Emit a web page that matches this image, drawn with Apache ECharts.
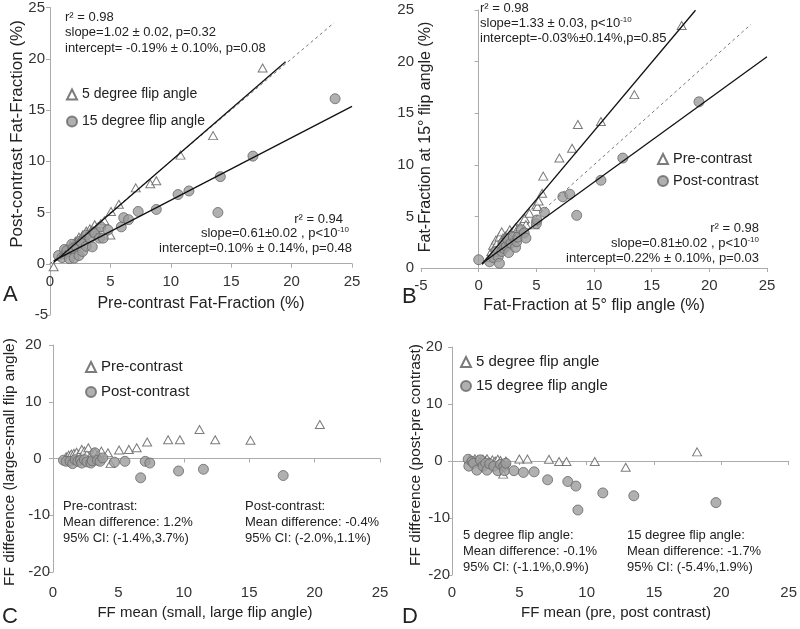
<!DOCTYPE html>
<html><head><meta charset="utf-8">
<script src="https://cdn.jsdelivr.net/npm/echarts@6/dist/echarts.min.js"></script>
<style>html,body{margin:0;padding:0;background:#fff}#c{width:800px;height:629px}</style>
</head><body><div id="c"></div>
<script>
// ---------- DATA ----------
// Panel A: x = pre-contrast FF, y = post-contrast FF
const panelA_5deg = [[0.3,-0.3],[1.0,0.9],[1.2,1.1],[1.4,1.4],[1.6,1.5],[1.7,1.8],[1.9,1.8],[2.0,2.0],[2.1,2.2],[2.3,2.3],[2.4,2.6],[2.6,2.5],[2.7,2.8],[2.9,2.7],[3.0,3.2],[3.2,3.0],[3.3,3.4],[3.5,3.3],[3.7,3.8],[3.9,3.5],[4.2,3.9],[4.5,4.2],[5.0,2.8],[5.05,5.1],[5.7,5.8],[7.1,7.4],[8.3,7.8],[8.8,8.1],[10.8,10.6],[13.5,12.5],[17.6,19.1]];
const panelA_15deg = [[0.7,0.8],[1.0,0.6],[1.2,1.4],[1.4,1.3],[1.6,0.5],[1.8,1.9],[1.9,1.5],[2.0,0.55],[2.2,1.65],[2.4,0.8],[2.5,2.2],[2.6,2.1],[2.7,1.2],[3.0,2.8],[3.0,1.7],[3.3,2.5],[3.5,1.65],[3.6,3.1],[3.7,3.0],[4.1,2.5],[4.2,3.6],[4.4,2.5],[4.8,3.3],[5.9,3.6],[6.1,4.5],[6.5,4.3],[7.3,5.1],[8.8,5.3],[10.6,6.75],[11.5,7.1],[13.9,5.0],[14.1,8.5],[16.8,10.5],[23.6,16.1]];
// Panel B: x = FF at 5 deg, y = FF at 15 deg
const panelB_pre = [[0.9,1.0],[1.1,1.6],[1.25,2.2],[1.4,2.0],[1.5,2.7],[1.6,2.4],[1.8,3.0],[2.0,3.5],[2.1,2.9],[2.3,3.1],[2.5,3.3],[2.7,3.7],[2.9,3.4],[3.0,3.2],[3.2,3.9],[3.4,3.85],[3.6,4.0],[4.0,4.8],[4.1,4.2],[4.4,5.3],[4.85,4.2],[5.0,6.1],[5.1,5.95],[5.2,6.5],[5.5,7.25],[5.6,8.9],[7.0,10.65],[8.1,11.6],[8.6,13.9],[10.6,14.2],[13.5,16.8],[17.6,23.5]];
const panelB_post = [[0.0,0.8],[0.95,0.6],[1.3,1.0],[1.5,1.6],[1.7,1.1],[1.8,0.45],[2.0,1.6],[2.1,2.4],[2.2,1.9],[2.4,2.1],[2.5,2.8],[2.6,1.5],[2.8,2.4],[3.0,3.0],[3.2,2.0],[3.3,2.55],[3.4,3.0],[3.7,3.7],[3.95,3.4],[4.1,2.9],[5.0,4.3],[5.05,4.65],[5.7,5.4],[7.3,6.9],[7.9,7.15],[8.5,5.1],[10.6,8.5],[12.5,10.65],[19.1,16.1]];
// Panel C: x = FF mean (small, large flip), y = difference (large - small)
const panelC_pre = [[1.0,0.3],[1.2,0.6],[1.4,0.8],[1.6,0.9],[1.8,1.1],[2.0,0.7],[2.2,1.6],[2.4,1.3],[2.6,0.8],[2.7,1.9],[3.0,0.9],[3.2,1.1],[3.4,0.6],[3.7,1.3],[4.2,1.0],[4.4,-0.9],[5.05,1.5],[5.8,1.6],[6.4,1.9],[7.2,2.9],[8.8,3.3],[9.7,3.3],[11.2,5.1],[12.4,3.3],[15.1,3.2],[20.4,6.0]];
const panelC_post = [[0.8,-0.3],[1.0,-0.5],[1.3,-0.5],[1.5,-0.9],[1.7,-0.2],[1.9,-0.5],[2.1,-0.3],[2.2,-0.8],[2.4,-0.2],[2.6,-0.6],[2.9,-0.8],[3.0,-0.4],[3.2,1.0],[3.4,-0.3],[3.6,-0.5],[3.8,0.1],[4.7,-0.65],[5.5,-0.5],[6.7,-3.4],[7.05,-0.5],[7.4,-0.8],[9.6,-2.2],[11.5,-1.9],[17.6,-3.0]];
// Panel D: x = FF mean (pre, post), y = difference (post - pre)
const panelD_5deg = [[1.3,0.3],[1.5,0.1],[1.7,0.4],[1.9,0.2],[2.1,0.0],[2.3,0.3],[2.5,0.1],[2.6,0.4],[2.8,-0.2],[3.0,0.2],[3.2,0.0],[3.4,0.3],[3.6,0.1],[3.7,-0.4],[3.8,-2.3],[4.0,0.0],[5.0,0.35],[5.6,0.35],[7.2,0.3],[7.95,-0.1],[8.5,-0.1],[10.6,-0.1],[12.9,-1.1],[18.2,1.6]];
const panelD_15deg = [[1.2,0.3],[1.25,-0.9],[1.5,-0.1],[1.6,-0.4],[1.85,-1.6],[2.1,0.2],[2.3,-0.9],[2.5,-0.4],[2.6,-1.6],[2.8,-0.5],[3.1,-0.9],[3.4,-1.7],[3.6,-0.6],[3.85,-0.9],[3.9,-1.7],[4.0,-0.4],[4.6,-1.7],[5.3,-2.0],[6.1,-1.9],[7.1,-3.3],[8.6,-3.6],[9.2,-4.4],[9.35,-8.6],[11.2,-5.6],[13.5,-6.1],[19.6,-7.3]];
// Regression lines: [slope, intercept, xStart, xEnd]
const fitA_5deg = [1.02, -0.19, 0.3, 19.5];
const fitA_15deg = [0.61, 0.10, 0.3, 25];
const identityA = [1, 0, 0, 23.5];
const fitB_pre = [1.33, -0.03, 0.3, 18.8];
const fitB_post = [0.81, 0.22, 0.3, 25];
const identityB = [1, 0, 0.3, 23.6];
// tick settings
const ticksA = {xMin:0, xMax:25, yMin:-5, yMax:25, step:5};
const ticksB = {xMin:-5, xMax:25, yMin:0, yMax:25, step:5};
const ticksCD = {xMin:0, xMax:25, yMin:-20, yMax:20, xStep:5, yStep:10};

// ---------- HELPERS ----------
const FONT = '"Liberation Sans", Arial, sans-serif';
const AXIS_COLOR = '#ababab';
const TXT = '#222';
function fitLine(p){ const [m,b,x0,x1]=p; return [[x0, m*x0+b],[x1, m*x1+b]]; }
const triStyle = {color:'#fff', borderColor:'#5a5a5a', borderWidth:1};
const cirStyle = {color:'#9c9c9c', borderColor:'#666', borderWidth:1};
function tri(name, data, xi, yi){ return {type:'scatter', name, data, xAxisIndex:xi, yAxisIndex:yi, symbol:'triangle', symbolSize:[9,8], itemStyle:triStyle, z:2, silent:true}; }
function cir(name, data, xi, yi){ return {type:'scatter', name, data, xAxisIndex:xi, yAxisIndex:yi, symbol:'circle', symbolSize:10, itemStyle:cirStyle, z:3, silent:true}; }
function line(data, xi, yi, dashed){ return {type:'line', data, xAxisIndex:xi, yAxisIndex:yi, symbol:'none', silent:true, z:dashed?4:5,
  lineStyle: dashed ? {color:'#777', width:1, type:[3,3]} : {color:'#111', width:1.3}}; }

function xAx(grid, t, onZero, extra){ return Object.assign({type:'value', gridIndex:grid, min:t.xMin, max:t.xMax, interval:t.xStep||t.step,
  splitLine:{show:false},
  axisLine:{show:true, onZero:onZero, lineStyle:{color:AXIS_COLOR, width:1}},
  axisTick:{show:true, length:4, lineStyle:{color:AXIS_COLOR}},
  axisLabel:{fontSize:15, color:'#333', fontFamily:FONT, margin:10}}, extra||{}); }
function yAx(grid, t, onZero, extra){ return Object.assign({type:'value', gridIndex:grid, min:t.yMin, max:t.yMax, interval:t.yStep||t.step,
  splitLine:{show:false},
  axisLine:{show:true, onZero:onZero, lineStyle:{color:AXIS_COLOR, width:1}},
  axisTick:{show:true, length:4, lineStyle:{color:AXIS_COLOR}},
  axisLabel:{fontSize:15, color:'#333', fontFamily:FONT, margin:2}}, extra||{}); }

function txt(x, y, text, size, align, rich){ return {type:'text', x, y, silent:true,
  style:{text, font: size+'px '+FONT, fill:TXT, align:align||'left', textAlign:align||'left', verticalAlign:'middle', textVerticalAlign:'middle', rich: rich}}; }
function vtxt(x, y, text, size){ return {type:'text', x, y, rotation:Math.PI/2, silent:true,
  style:{text, font: size+'px '+FONT, fill:TXT, align:'center', textAlign:'center', verticalAlign:'middle', textVerticalAlign:'middle'}}; }
const supRich = {sup:{fontSize:8, fontFamily:FONT, verticalAlign:'top', lineHeight:14, fill:TXT, color:TXT}};

// grid A geometry: zero line sits (0 - yMin)/(yMax - yMin) of the height above the bottom
const gridA = {left:50, top:7, width:302, height:308};
const zeroOffsetA = -gridA.height * (0 - ticksA.yMin) / (ticksA.yMax - ticksA.yMin);

// ---------- OPTION ----------
const option = {
  animation:false,
  backgroundColor:'#fff',
  textStyle:{fontFamily:FONT},
  grid:[
    gridA,
    {left:421, top:10, width:346, height:258},
    {left:53, top:345, width:327, height:227},
    {left:452, top:347, width:343, height:228}
  ],
  xAxis:[
    xAx(0, ticksA, false, {position:'bottom', offset:zeroOffsetA, axisLabel:{fontSize:15, color:'#333', fontFamily:FONT, margin:11}}),
    xAx(1, ticksB, false),
    xAx(2, ticksCD, true, {axisLabel:{show:false}}),
    xAx(2, ticksCD, false, {position:'bottom', axisLine:{show:false, onZero:false}, axisTick:{show:false}, axisLabel:{fontSize:15, color:'#333', fontFamily:FONT, margin:13}}),
    xAx(3, ticksCD, true, {axisLabel:{show:false}}),
    xAx(3, ticksCD, false, {position:'bottom', axisLine:{show:false, onZero:false}, axisTick:{show:false}, axisLabel:{fontSize:15, color:'#333', fontFamily:FONT, margin:10}})
  ],
  yAxis:[
    yAx(0, ticksA, false, {axisLabel:{fontSize:15, color:'#333', fontFamily:FONT, margin:2, formatter:v=> v>=0 ? v+'\u2009' : String(v)}}),
    yAx(1, ticksB, true, {axisLabel:{fontSize:15, color:'#333', fontFamily:FONT, margin:7}}),
    yAx(2, ticksCD, false, {axisLabel:{fontSize:15, color:'#333', fontFamily:FONT, margin:3, formatter:v=> v>=0 ? v+'\u2007' : String(v)}}),
    yAx(3, ticksCD, false, {axisLabel:{fontSize:15, color:'#333', fontFamily:FONT, margin:2, formatter:v=> v>=0 ? v+'\u2002' : String(v)}})
  ],
  legend:[
    {orient:'vertical', left:61, top:82, itemGap:12, itemWidth:10, itemHeight:10, textStyle:{fontSize:14, color:TXT, fontFamily:FONT, lineHeight:15}, data:['5 degree flip angle','15 degree flip angle'], selectedMode:false},
    {orient:'vertical', left:652, top:146, itemGap:6, itemWidth:10, itemHeight:10, textStyle:{fontSize:14.5, color:TXT, fontFamily:FONT, lineHeight:16}, data:['Pre-contrast','Post-contrast'], selectedMode:false},
    {orient:'vertical', left:80, top:354, itemGap:9, itemWidth:10, itemHeight:10, textStyle:{fontSize:15, color:TXT, fontFamily:FONT, lineHeight:16}, data:['Pre-contrast','Post-contrast'], selectedMode:false},
    {orient:'vertical', left:455, top:349, itemGap:8, itemWidth:10, itemHeight:10, textStyle:{fontSize:15, color:TXT, fontFamily:FONT, lineHeight:16}, data:['5 degree flip angle','15 degree flip angle'], selectedMode:false}
  ],
  series:[
    tri('5 degree flip angle', panelA_5deg, 0, 0),
    cir('15 degree flip angle', panelA_15deg, 0, 0),
    line(fitLine(identityA), 0, 0, true),
    line(fitLine(fitA_5deg), 0, 0, false),
    line(fitLine(fitA_15deg), 0, 0, false),
    tri('Pre-contrast', panelB_pre, 1, 1),
    cir('Post-contrast', panelB_post, 1, 1),
    line(fitLine(identityB), 1, 1, true),
    line(fitLine(fitB_pre), 1, 1, false),
    line(fitLine(fitB_post), 1, 1, false),
    tri('Pre-contrast', panelC_pre, 2, 2),
    cir('Post-contrast', panelC_post, 2, 2),
    tri('5 degree flip angle', panelD_5deg, 4, 3),
    cir('15 degree flip angle', panelD_15deg, 4, 3)
  ],
  graphic:[
    // Panel A annotations
    txt(65, 17, 'r² = 0.98', 13),
    txt(65, 32, 'slope=1.02 ± 0.02, p=0.32', 13),
    txt(65, 48, 'intercept= -0.19% ± 0.10%, p=0.08', 13),
    txt(343, 219, 'r² = 0.94', 13, 'right'),
    txt(349, 233, 'slope=0.61±0.02 , p<10{sup|-10}', 13, 'right', supRich),
    txt(352, 248, 'intercept=0.10% ± 0.14%, p=0.48', 13, 'right'),
    // Panel B annotations
    txt(480, 8, 'r² = 0.98', 13),
    txt(480, 23, 'slope=1.33 ± 0.03, p<10{sup|-10}', 13, 'left', supRich),
    txt(480, 38, 'intercept=-0.03%±0.14%,p=0.85', 13),
    txt(759, 228, 'r² = 0.98', 13, 'right'),
    txt(759, 243, 'slope=0.81±0.02 , p<10{sup|-10}', 13, 'right', supRich),
    txt(759, 258, 'intercept=0.22% ± 0.10%, p=0.03', 13, 'right'),
    // Panel C annotations
    txt(63, 506, 'Pre-contrast:', 13),
    txt(63, 522, 'Mean difference: 1.2%', 13),
    txt(63, 538, '95% CI: (-1.4%,3.7%)', 13),
    txt(245, 506, 'Post-contrast:', 13),
    txt(245, 522, 'Mean difference: -0.4%', 13),
    txt(245, 538, '95% CI: (-2.0%,1.1%)', 13),
    // Panel D annotations
    txt(463, 535, '5 degree flip angle:', 13),
    txt(463, 551, 'Mean difference: -0.1%', 13),
    txt(463, 567, '95% CI: (-1.1%,0.9%)', 13),
    txt(627, 535, '15 degree flip angle:', 13),
    txt(627, 551, 'Mean difference: -1.7%', 13),
    txt(627, 567, '95% CI: (-5.4%,1.9%)', 13),
    // axis titles
    txt(201, 304, 'Pre-contrast Fat-Fraction (%)', 16, 'center'),
    vtxt(17, 134, 'Post-contrast Fat-Fraction (%)', 17),
    txt(594, 306, 'Fat-Fraction at 5° flip angle (%)', 16, 'center'),
    vtxt(426, 137, 'Fat-Fraction at 15° flip angle (%)', 16),
    txt(205, 613, 'FF mean (small, large flip angle)', 15, 'center'),
    vtxt(10, 462, 'FF difference (large-small flip angle)', 15.5),
    txt(616, 613, 'FF mean (pre, post contrast)', 15, 'center'),
    vtxt(416, 455, 'FF difference (post-pre contrast)', 15.5),
    // panel letters
    txt(3, 295, 'A', 22),
    txt(402, 297, 'B', 22),
    txt(2, 617, 'C', 22),
    txt(402, 617, 'D', 22)
  ]
};
const chart = echarts.init(document.getElementById('c'), null, {renderer:'canvas'});
chart.setOption(option);
</script>
</body></html>
